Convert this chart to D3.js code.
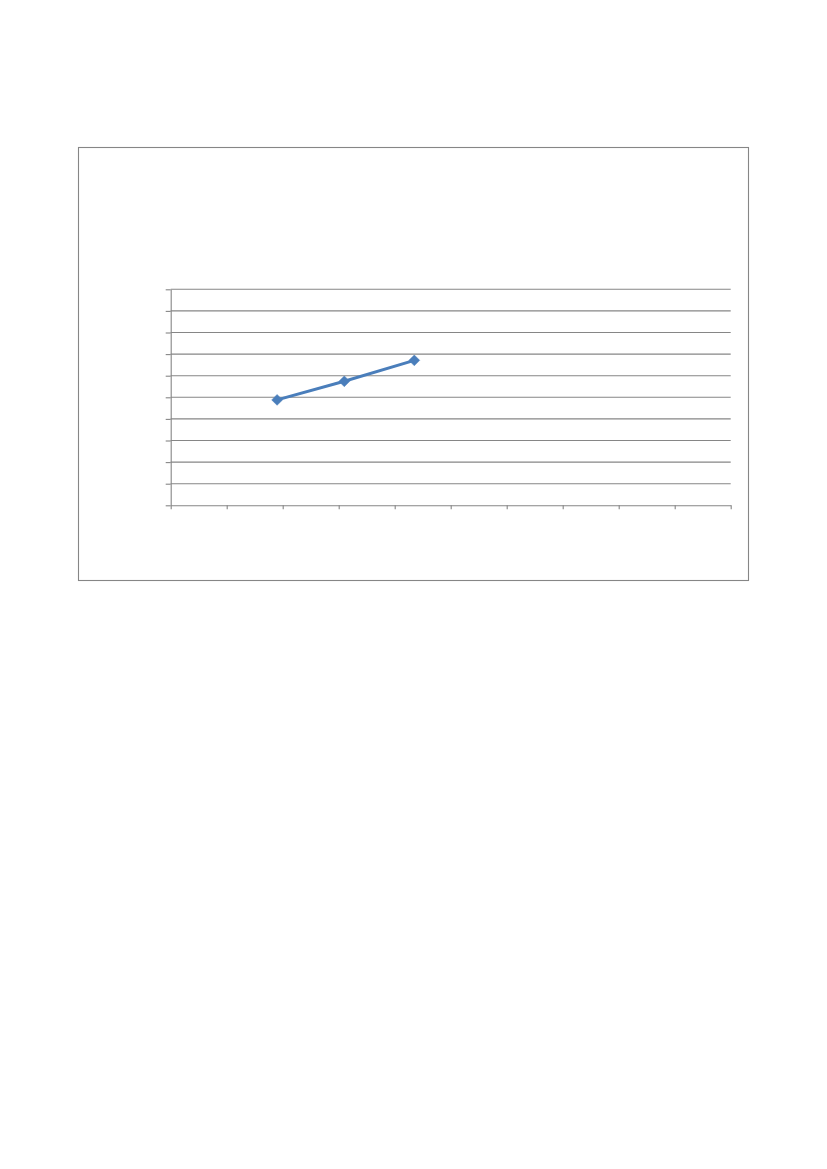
<!DOCTYPE html>
<html>
<head>
<meta charset="utf-8">
<script src="https://cdn.jsdelivr.net/npm/d3@7"></script>
<style>
  html, body { margin: 0; padding: 0; background: #fff; }
  svg { display: block; }
</style>
</head>
<body>
<svg id="chart" width="827" height="1169"></svg>
<script>
// series values (scatter with straight lines)
const xValues = [1.9, 3.1, 4.35];
const yValues = [4.88, 5.74, 6.71];
// axis ticks (the original shows no tick labels)
const xTicks = [0, 1, 2, 3, 4, 5, 6, 7, 8, 9, 10];
const yTicks = [0, 1, 2, 3, 4, 5, 6, 7, 8, 9, 10];

const svg = d3.select('#chart');
const gray = '#868686';
const blue = '#4a7ebb';

// chart area frame
svg.append('rect')
    .attr('x', 78.5).attr('y', 147.5)
    .attr('width', 670).attr('height', 433)
    .attr('fill', '#fff')
    .attr('stroke', gray)
    .attr('stroke-width', 1.1);

const plot = { left: 170.7, top: 289.3, right: 730.7, bottom: 505.3 };

const x = d3.scaleLinear().domain([0, 10]).range([plot.left, plot.right]);
const y = d3.scaleLinear().domain([0, 10]).range([plot.bottom, plot.top]);

// horizontal gridlines
svg.append('g')
    .selectAll('line')
    .data(yTicks.filter(d => d > 0))
    .join('line')
    .attr('x1', plot.left).attr('x2', plot.right)
    .attr('y1', d => y(d)).attr('y2', d => y(d))
    .attr('stroke', gray)
    .attr('stroke-width', 1.1);

// y axis
const yAxis = svg.append('g')
    .attr('transform', `translate(${plot.left},0)`)
    .call(d3.axisLeft(y).tickValues(yTicks).tickSize(5).tickSizeOuter(0).tickFormat(''));

// x axis
const xAxis = svg.append('g')
    .attr('transform', `translate(0,${plot.bottom})`)
    .call(d3.axisBottom(x).tickValues(xTicks).tickSize(4).tickSizeOuter(0).tickFormat(''));

[yAxis, xAxis].forEach(a => {
    a.selectAll('path, line').attr('stroke', gray).attr('stroke-width', 1.1);
});

const data = xValues.map((v, i) => ({ x: v, y: yValues[i] }));

const line = d3.line()
    .x(d => x(d.x))
    .y(d => y(d.y));

svg.append('path')
    .datum(data)
    .attr('fill', 'none')
    .attr('stroke', blue)
    .attr('stroke-width', 3)
    .attr('stroke-linejoin', 'round')
    .attr('d', line);

svg.append('g')
    .selectAll('path')
    .data(data)
    .join('path')
    .attr('transform', d => `translate(${x(d.x)},${y(d.y)})`)
    .attr('d', d3.symbol(d3.symbolDiamond2, 75))
    .attr('fill', blue)
    .attr('stroke', blue)
    .attr('stroke-width', 0.5);
</script>
</body>
</html>
